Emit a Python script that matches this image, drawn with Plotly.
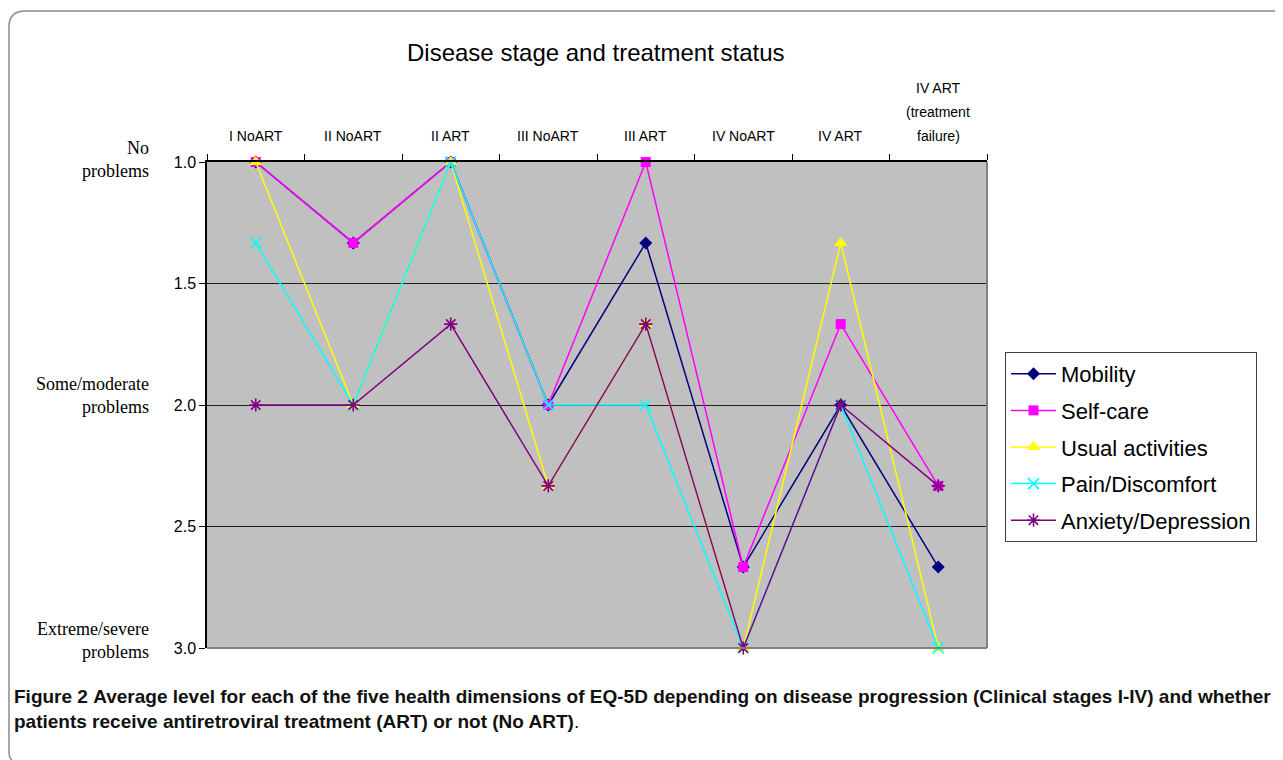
import plotly.graph_objects as go

categories = ["I NoART", "II NoART", "II ART", "III NoART", "III ART",
              "IV NoART", "IV ART", "IV ART<br>(treatment<br>failure)"]
series_names = ["Mobility", "Self-care", "Usual activities", "Pain/Discomfort", "Anxiety/Depression"]
mobility = [1.0, 1.333, 1.0, 2.0, 1.333, 2.667, 2.0, 2.667]
self_care = [1.0, 1.333, 1.0, 2.0, 1.0, 2.667, 1.667, 2.333]
usual_activities = [1.0, 2.0, 1.0, 2.333, 1.667, 3.0, 1.333, 3.0]
pain_discomfort = [1.333, 2.0, 1.0, 2.0, 2.0, 3.0, 2.0, 3.0]
anxiety_depression = [2.0, 2.0, 1.667, 2.333, 1.667, 3.0, 2.0, 2.333]
y_ticks = [1.0, 1.5, 2.0, 2.5, 3.0]
level_labels = ["No<br>problems", "Some/moderate<br>problems", "Extreme/severe<br>problems"]
level_values = [1.0, 2.0, 3.0]

values = [mobility, self_care, usual_activities, pain_discomfort, anxiety_depression]
colors = ["#000080", "#FF00FF", "#FFFF00", "#00FFFF", "#800080"]
symbols = ["diamond", "square", "triangle-up", "x-thin", "asterisk"]
sizes = [10, 10, 12, 11, 11]

# page geometry (page has an 8px body margin around the figure)
OFF = 8
L, R, T, B = 207, 987, 162, 648
W, H = 1275, 752
def px(x):
    return (x - L) / (R - L)
def py(y):
    return (B - y) / (B - T)

fig = go.Figure()
for i in range(5):
    mk = dict(symbol=symbols[i], size=sizes[i], color=colors[i])
    if symbols[i] in ("x-thin", "asterisk"):
        mk["line"] = dict(color=colors[i], width=1.6)
    fig.add_trace(go.Scatter(
        x=categories, y=values[i], name=series_names[i], mode="lines+markers",
        line=dict(color=colors[i], width=1.5), marker=mk, cliponaxis=False,
        legendgroup=series_names[i]))

fig.update_xaxes(type="category", side="top", tickson="boundaries",
                 ticks="outside", ticklen=6, tickcolor="black",
                 showline=True, linecolor="black", linewidth=1.5,
                 showgrid=False, showticklabels=False,
                 range=[-0.5, 7.5])
fig.update_yaxes(range=[3.0, 1.0], tickvals=y_ticks, ticktext=[f"{v:.1f}" for v in y_ticks],
                 ticks="outside", ticklen=6, tickcolor="black",
                 showline=True, linecolor="black", linewidth=1.5,
                 showgrid=True, gridcolor="#202020", gridwidth=1, zeroline=False,
                 tickfont=dict(family="Liberation Sans", size=16, color="black"))

annotations = [
    dict(text="Disease stage and treatment status", xref="paper", yref="paper",
         x=px(596), y=py(53), xanchor="center", yanchor="middle", showarrow=False,
         font=dict(family="Liberation Sans", size=24, color="black")),
]
# category labels above the top axis
for cat in categories:
    lines = cat.split("<br>")
    for k, line in enumerate(reversed(lines)):
        annotations.append(dict(text=line, xref="x", yref="paper", x=cat, y=py(136 - 24 * k),
                                xanchor="center", yanchor="middle", showarrow=False,
                                font=dict(family="Liberation Sans", size=14, color="black")))
for lab, v, sh in zip(level_labels, level_values, [3, 10, 8]):
    annotations.append(dict(text=lab, xref="paper", yref="y", x=px(151), y=v,
                            yshift=sh, xanchor="right", yanchor="middle", align="right",
                            showarrow=False,
                            font=dict(family="Liberation Serif", size=18, color="black")))
annotations.append(dict(
    text="<b>Figure 2</b> <b>Average level for each of the five health dimensions of EQ-5D depending on disease progression (Clinical stages I-IV) and whether<br>patients receive antiretroviral treatment (ART) or not (No ART)</b>.",
    xref="paper", yref="paper", x=px(12), y=py(708.5), xanchor="left", yanchor="middle",
    align="left", showarrow=False,
    font=dict(family="Liberation Sans", size=19, color="#111111")))

shapes = [
    dict(type="line", xref="paper", yref="paper", x0=0, x1=1, y0=0, y1=0,
         line=dict(color="#808080", width=2)),
    dict(type="line", xref="paper", yref="paper", x0=1, x1=1, y0=0, y1=1,
         line=dict(color="#808080", width=2)),
]
# outer rounded frame (top and left edges)
r = 16
path = (f"M {px(1283)},{py(11)} L {px(9 + r)},{py(11)} "
        f"Q {px(9)},{py(11)} {px(9)},{py(11 + r)} "
        f"L {px(9)},{py(752)} Q {px(9)},{py(758)} {px(12)},{py(760)}")
shapes.append(dict(type="path", xref="paper", yref="paper", path=path,
                   line=dict(color="#8a8a8a", width=1.5)))

fig.update_layout(
    width=W, height=H,
    margin=dict(l=L - OFF, r=W - (R - OFF), t=T - OFF, b=H - (B - OFF), autoexpand=False),
    paper_bgcolor="white", plot_bgcolor="#C0C0C0",
    showlegend=True,
    legend=dict(x=px(1005), y=py(352), xanchor="left", yanchor="top",
                bgcolor="white", bordercolor="#404040", borderwidth=1,
                font=dict(family="Liberation Sans", size=22, color="black"),
                tracegroupgap=5, traceorder="grouped", itemwidth=45),
    annotations=annotations, shapes=shapes,
)

fig.write_html("out.html")
